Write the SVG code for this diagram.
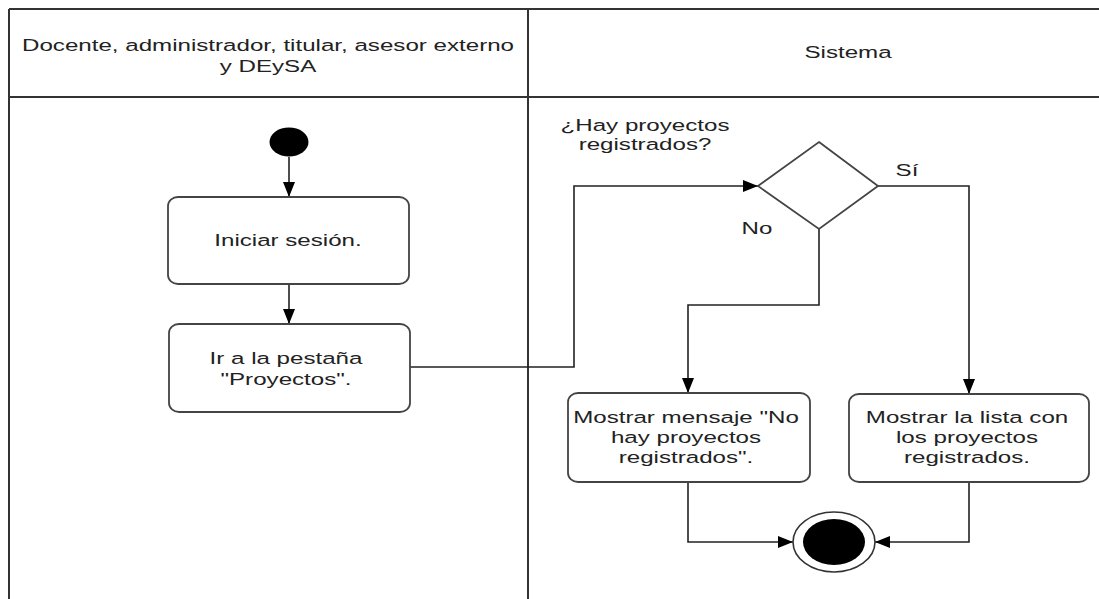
<svg xmlns="http://www.w3.org/2000/svg" width="1099" height="599" viewBox="0 0 1099 599">
<style>
.lane{fill:none;stroke:#333;stroke-width:2}
.node{fill:#fff;stroke:#444;stroke-width:1.8}
.edge{fill:none;stroke:#222;stroke-width:1.6}
.t{font-family:"Liberation Sans",Arial,sans-serif;font-size:17px;fill:#222;text-anchor:middle}
</style>
<defs>
<marker id="arr" markerUnits="userSpaceOnUse" markerWidth="16" markerHeight="12" refX="15" refY="6" orient="auto">
<path d="M0,0 L15,6 L0,12 z" fill="#000"/>
</marker>
</defs>
<rect width="1099" height="599" fill="#fff"/>
<g id="lanes">
<path class="lane" d="M9,9 H1099 M9,97 H1099 M9,9 V599 M528,9 V599"/>
<text class="t" transform="translate(268,51) scale(1.42,1)"><tspan x="0">Docente, administrador, titular, asesor externo</tspan><tspan x="0" dy="21">y DEySA</tspan></text>
<text class="t" transform="translate(848,58) scale(1.42,1)">Sistema</text>
</g>
<g id="connectors">
<path class="edge" d="M289,157 V197" marker-end="url(#arr)"/>
<path class="edge" d="M289,284 V324" marker-end="url(#arr)"/>
<path class="edge" d="M409,367 H574 V186 H758" marker-end="url(#arr)"/>
<path class="edge" d="M878,186 H969 V394" marker-end="url(#arr)"/>
<path class="edge" d="M819,229 V305 H688 V393" marker-end="url(#arr)"/>
<path class="edge" d="M688,482 V542 H793" marker-end="url(#arr)"/>
<path class="edge" d="M969,482 V542 H875" marker-end="url(#arr)"/>
<text class="t" transform="translate(907,176) scale(1.42,1)">Sí</text>
<text class="t" transform="translate(757,234) scale(1.42,1)">No</text>
</g>
<g id="start">
<ellipse cx="289" cy="142" rx="19.5" ry="14.5" fill="#000"/>
</g>
<g id="iniciar">
<rect class="node" x="168" y="197" width="241" height="87" rx="10" ry="9"/>
<text class="t" transform="translate(288,246) scale(1.42,1)">Iniciar sesión.</text>
</g>
<g id="pestana">
<rect class="node" x="169" y="324" width="241" height="88" rx="10" ry="9"/>
<text class="t" transform="translate(286,364) scale(1.42,1)"><tspan x="0">Ir a la pestaña</tspan><tspan x="0" dy="21">"Proyectos".</tspan></text>
</g>
<g id="decision">
<polygon class="node" points="819,142 878,186 819,229 758,186"/>
<text class="t" transform="translate(645,131) scale(1.42,1)"><tspan x="0">¿Hay proyectos</tspan><tspan x="0" dy="19">registrados?</tspan></text>
</g>
<g id="mensaje">
<rect class="node" x="568" y="393" width="242" height="89" rx="10" ry="9"/>
<text class="t" transform="translate(686,423) scale(1.42,1)"><tspan x="0">Mostrar mensaje "No</tspan><tspan x="0" dy="20">hay proyectos</tspan><tspan x="0" dy="20">registrados".</tspan></text>
</g>
<g id="lista">
<rect class="node" x="849" y="394" width="240" height="88" rx="10" ry="9"/>
<text class="t" transform="translate(967,423) scale(1.42,1)"><tspan x="0">Mostrar la lista con</tspan><tspan x="0" dy="20">los proyectos</tspan><tspan x="0" dy="20">registrados.</tspan></text>
</g>
<g id="end">
<ellipse cx="834" cy="542" rx="41" ry="30" fill="#fff" stroke="#333" stroke-width="1.6"/>
<ellipse cx="834" cy="542" rx="31" ry="23" fill="#000"/>
</g>
</svg>
